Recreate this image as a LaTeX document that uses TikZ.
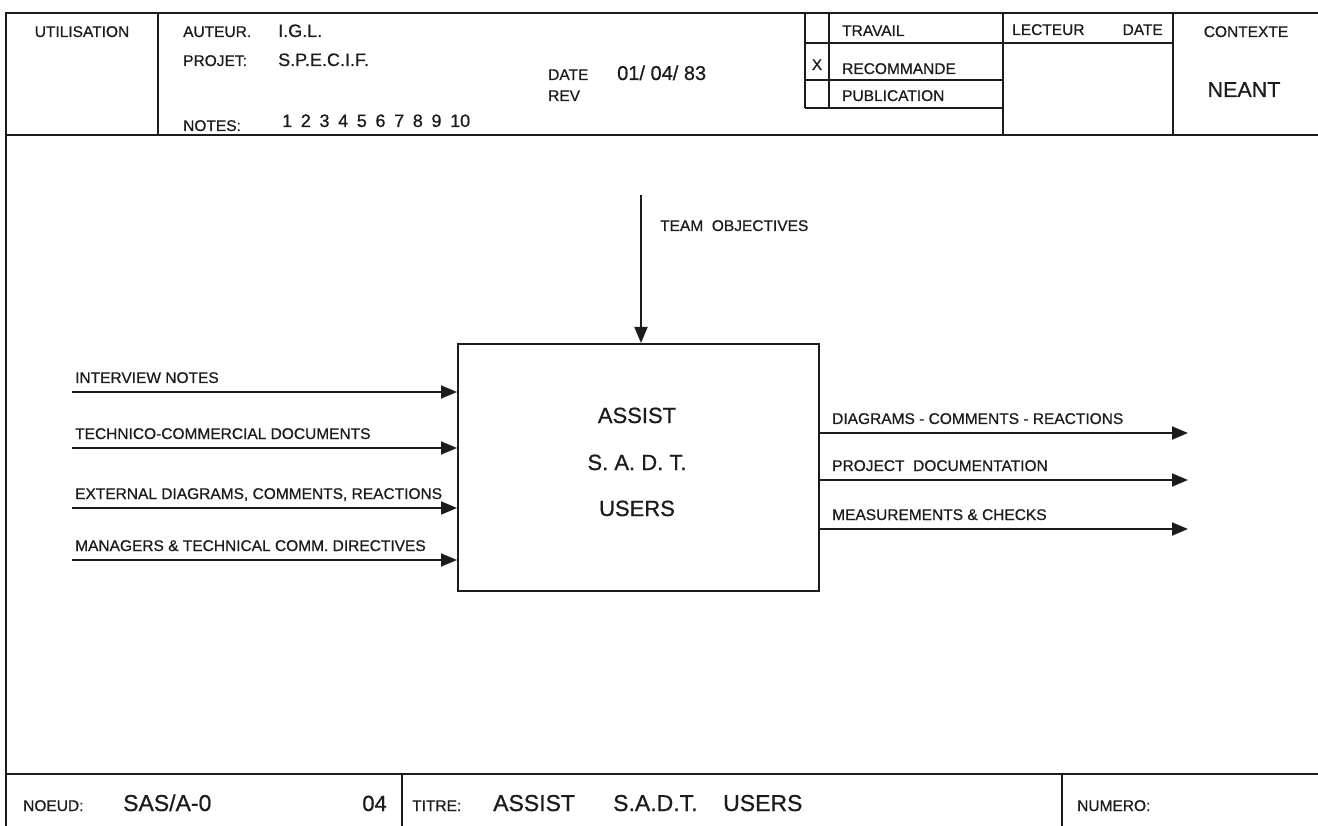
\documentclass[tikz,border=0pt]{standalone}
\usepackage{fontspec}
\setmainfont{Liberation Sans}[FakeBold=0.7]
\usepackage{tikz}
\usetikzlibrary{positioning,arrows.meta,calc}
\definecolor{ink}{RGB}{28,28,28}
\newcommand{\lblfont}{\fontsize{15.5}{18}\selectfont}
\newcommand{\valfont}{\fontsize{18}{21}\selectfont}
\newcommand{\bigfont}{\fontsize{23}{27}\selectfont}

\begin{document}
\begin{tikzpicture}[x=1pt,y=-1pt,
    rule/.style={ink,line width=1.6pt},
    lbl/.style={inner sep=0pt,text=ink,font=\lblfont},
    val/.style={inner sep=0pt,text=ink,font=\valfont},
    big/.style={inner sep=0pt,text=ink,font=\bigfont},
    flow/.style={ink,line width=1.8pt,-{Triangle[length=16pt,width=13pt]}}]
        \useasboundingbox (0,0) rectangle (1318,826);
        % sheet frame and cartouche rules
        \draw[rule] (1318,13) -- (6,13) -- (6,826);
        \draw[rule] (6,135) -- (1318,135);
        \draw[rule] (6,774) -- (1318,774);
        \foreach \x in {158,1003,1173} \draw[rule] (\x,13) -- (\x,135);
        \foreach \x in {805,829} \draw[rule] (\x,13) -- (\x,108);
        \draw[rule] (805,43) -- (1173,43);
        \foreach \y in {80,108} \draw[rule] (805,\y) -- (1003,\y);
        \foreach \x in {402,1062} \draw[rule] (\x,774) -- (\x,826);
        % header
        \node[lbl,anchor=base] (util) at (82,37) {UTILISATION};
        \node[lbl,anchor=base west] (auteur) at (183,37) {AUTEUR.};
        \node[val,anchor=base west] (igl) at (278,37) {I.G.L.};
        \node[lbl,anchor=base west] (projet) at (183,66) {PROJET:};
        \node[val,anchor=base west] (specif) at (278,66) {S.P.E.C.I.F.};
        \node[lbl,anchor=base west] (notes) at (183,131) {NOTES:};
        \node[val,anchor=base west] (nums) at (282,127) {\makebox[188pt][s]{1 2 3 4 5 6 7 8 9 10}};
        \node[lbl,anchor=base west] (date) at (548,80) {DATE};
        \node[val,anchor=base west,font=\fontsize{20}{24}\selectfont] (dateval) at (617,80) {01/ 04/ 83};
        \node[lbl,anchor=base west] (rev) at (548,101) {REV};
        \node[lbl,anchor=base] (mark) at (817,70) {X};
        \node[lbl,anchor=base west] (travail) at (842,36) {TRAVAIL};
        \node[lbl,anchor=base west] (recom) at (842,74) {RECOMMANDE};
        \node[lbl,anchor=base west] (public) at (842,101) {PUBLICATION};
        \node[lbl,anchor=base west] (lecteur) at (1012,35) {LECTEUR};
        \node[lbl,anchor=base east] (ldate) at (1163,35) {DATE};
        \node[lbl,anchor=base] (contexte) at (1246,37) {CONTEXTE};
        \node[val,anchor=base,font=\fontsize{21.5}{25}\selectfont] (neant) at (1244,97) {NEANT};
        % activity box
        \node[draw=ink,line width=1.6pt,inner sep=0pt,anchor=north west,
              minimum width=361pt,minimum height=247pt] (box) at (457,343) {};
        \node[big,anchor=base,font=\fontsize{22}{26}\selectfont] (bA) at (637,423) {ASSIST};
        \node[big,anchor=base,font=\fontsize{22}{26}\selectfont] (bB) at (637,470) {S. A. D. T.};
        \node[big,anchor=base,font=\fontsize{22}{26}\selectfont] (bC) at (637,516) {USERS};
        % control from above
        \coordinate (ctl) at (641,195);
        \draw[flow] (ctl) -- (ctl |- box.north);
        \node[lbl,anchor=base west] (ctllbl) at (660,231) {TEAM\ \ OBJECTIVES};
        % inputs
        \foreach \y/\t [count=\i] in {392/INTERVIEW NOTES,
                                      448/TECHNICO-COMMERCIAL DOCUMENTS,
                                      508/{EXTERNAL DIAGRAMS, COMMENTS, REACTIONS},
                                      560/{MANAGERS \& TECHNICAL COMM. DIRECTIVES}} {
            \coordinate (in\i) at (72,\y);
            \draw[flow] (in\i) -- (in\i -| box.west);
            \node[lbl,anchor=base west] (inlbl\i) at (75,\y-9) {\t};
        }
        % outputs
        \foreach \y/\t [count=\i] in {433/DIAGRAMS - COMMENTS - REACTIONS,
                                      480/PROJECT\ \ DOCUMENTATION,
                                      529/MEASUREMENTS \& CHECKS} {
            \coordinate (out\i) at (1188,\y);
            \draw[flow] (out\i -| box.east) -- (out\i);
            \node[lbl,anchor=base west] (outlbl\i) at (832,\y-9) {\t};
        }
        % bottom cartouche
        \node[lbl,anchor=base west] (noeud) at (23,811) {NOEUD:};
        \node[big,anchor=base west] (noeudval) at (123,811) {SAS/A-0};
        \node[big,anchor=base east,font=\fontsize{22}{26}\selectfont] (page) at (387,811) {04};
        \node[lbl,anchor=base west] (titre) at (412,811) {TITRE:};
        \node[big,anchor=base west] (tA) at (493,811) {ASSIST};
        \node[big,anchor=base west] (tB) at (613,811) {S.A.D.T.};
        \node[big,anchor=base west] (tC) at (723,811) {USERS};
        \node[lbl,anchor=base west] (numero) at (1077,811) {NUMERO:};
\end{tikzpicture}
\end{document}
